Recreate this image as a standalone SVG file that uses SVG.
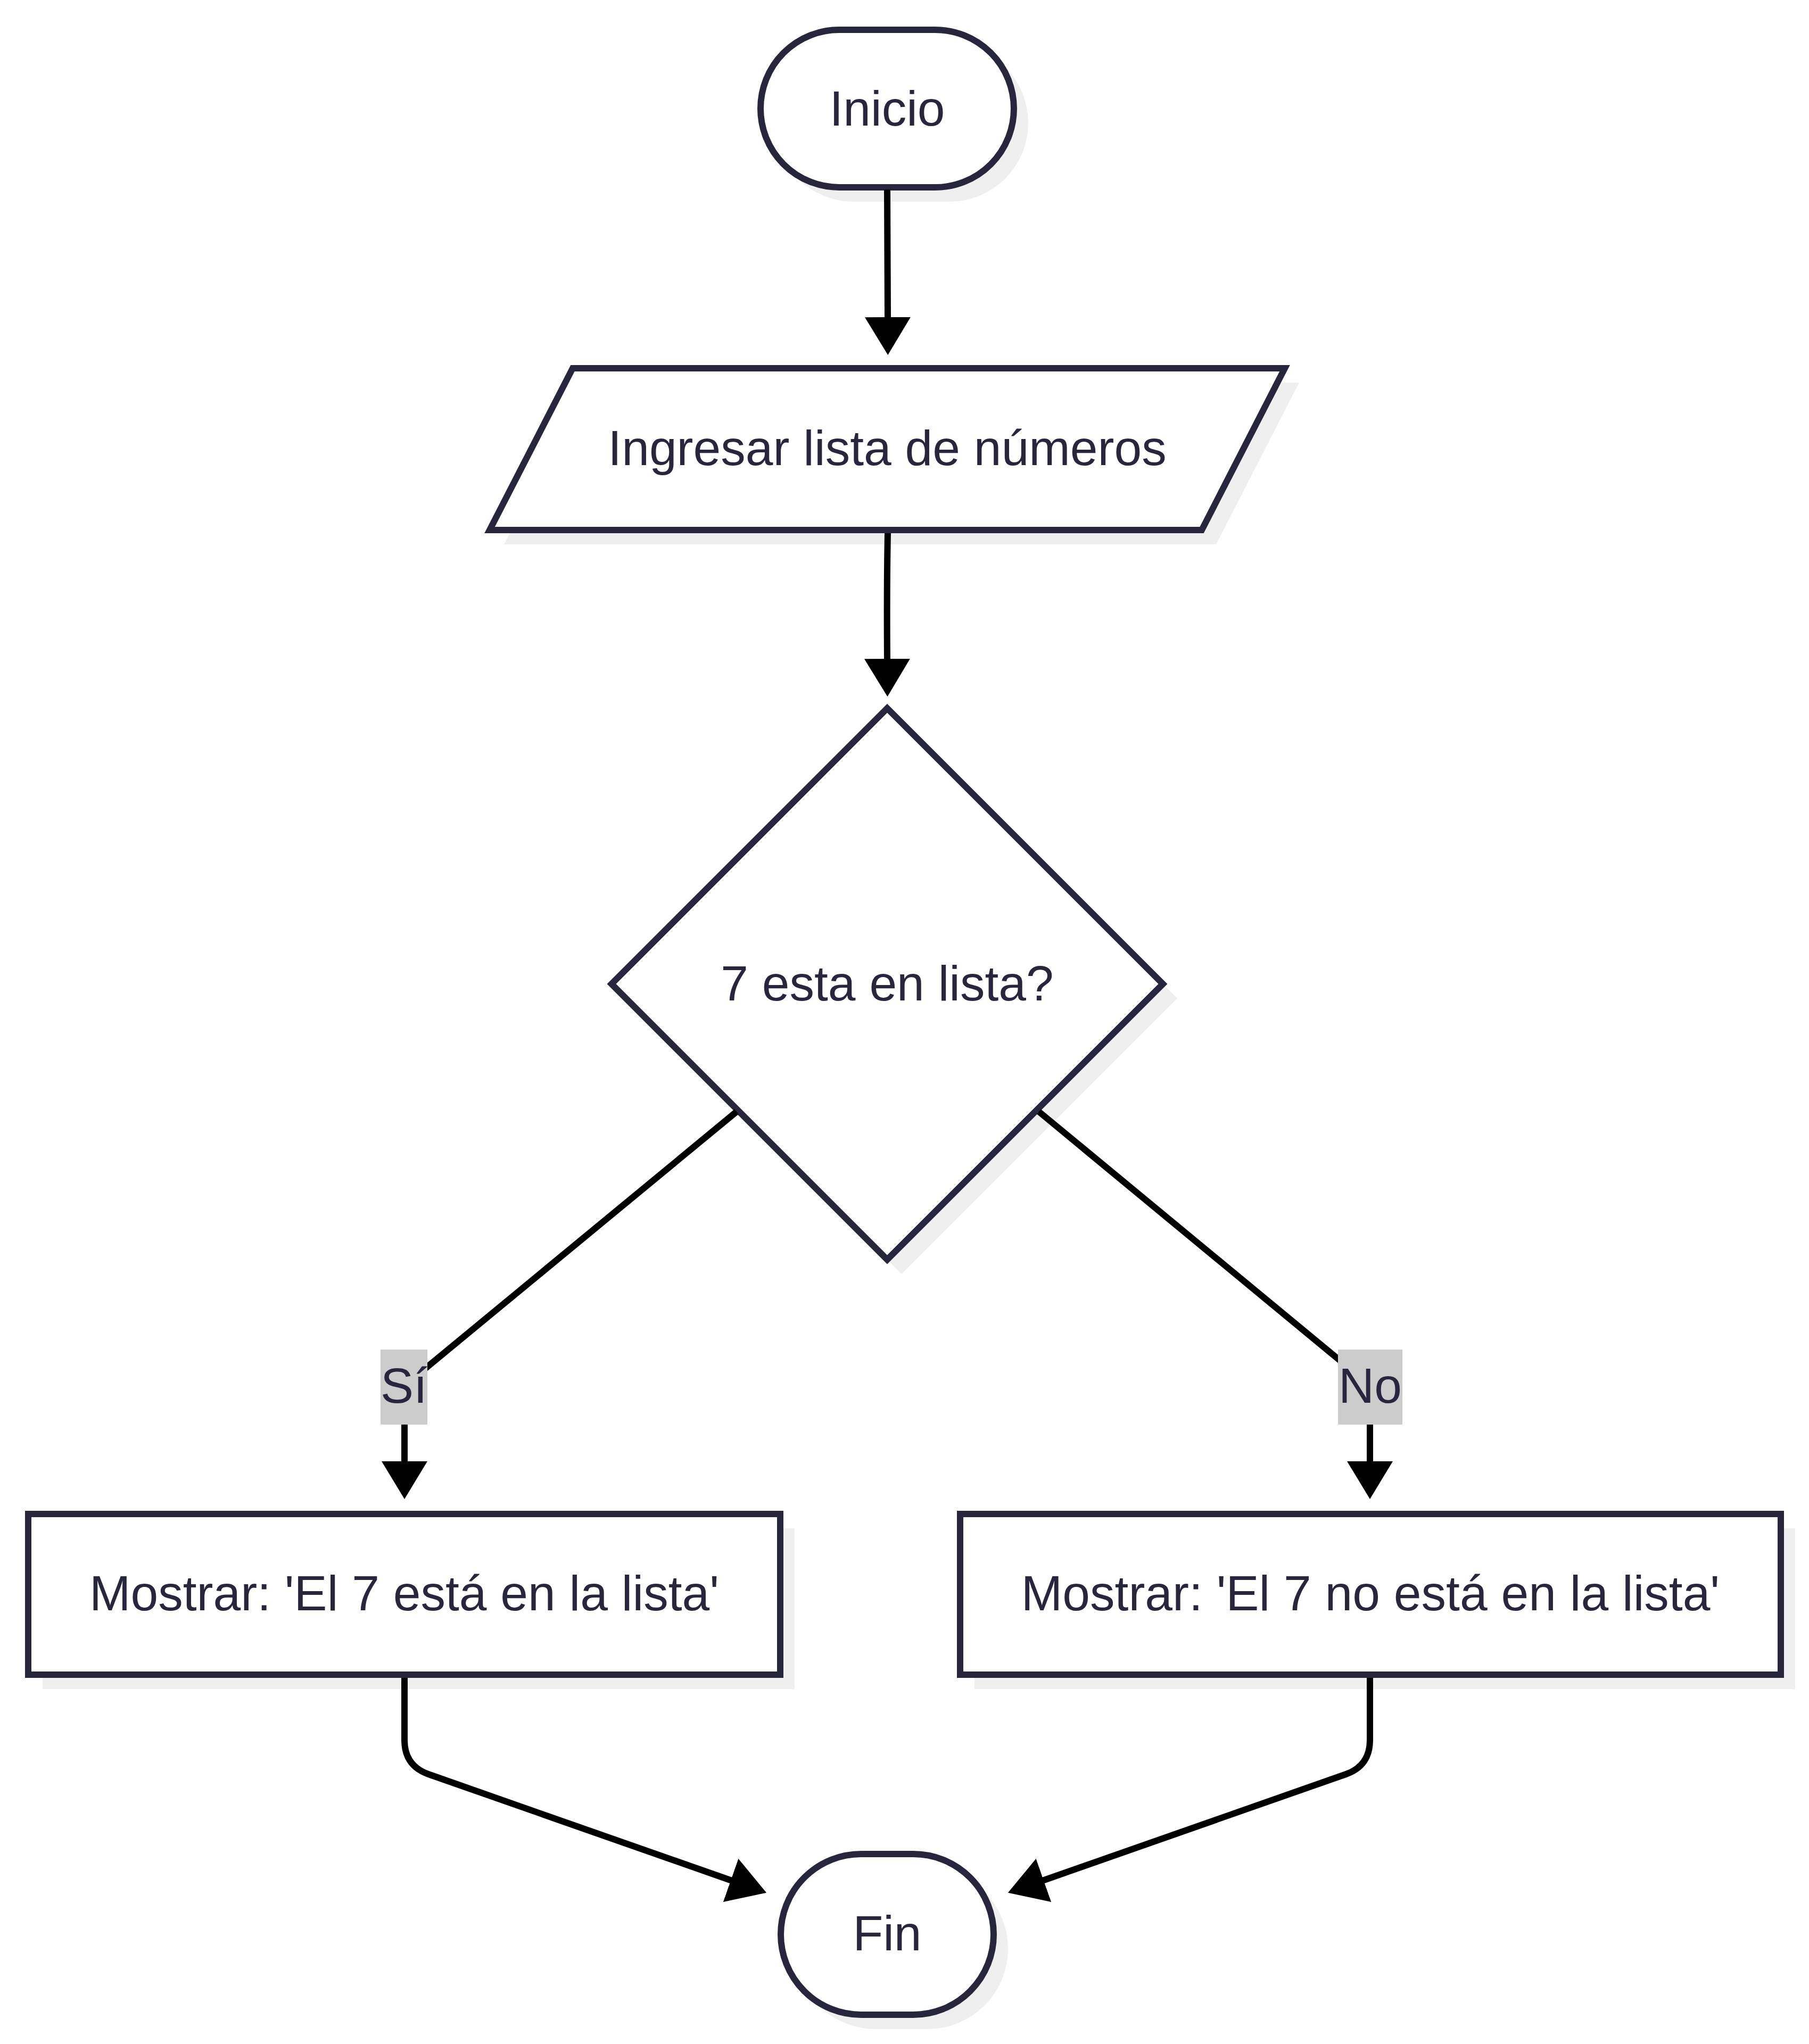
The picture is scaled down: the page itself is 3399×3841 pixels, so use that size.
<svg xmlns="http://www.w3.org/2000/svg" width="3399" height="3841" viewBox="0 0 3399 3841">
<style>
.node{fill:#ffffff;stroke:#27263d;stroke-width:12}
.shadow{fill:#efefef;stroke:none}
.lbl{font-family:"Liberation Sans",Arial,sans-serif;font-size:93px;fill:#27263d;text-anchor:middle}
.edge{fill:none;stroke:#000000;stroke-width:12}
.elbg{fill:#cccccc}
</style>
<defs>
<marker id="arrow" markerUnits="userSpaceOnUse" markerWidth="72" markerHeight="88" viewBox="0 0 72 88" refX="2" refY="44" orient="auto">
<path d="M0,1 L71,44 L0,87 z" fill="#000000"/>
</marker>
</defs>
<rect width="3399" height="3841" fill="#ffffff"/>

<g id="inicio">
<rect class="shadow" x="1456" y="83" width="476" height="296" rx="148"/>
<rect class="node" x="1429" y="56" width="476" height="296" rx="148"/>
<text class="lbl" x="1667" y="236">Inicio</text>
</g>

<g id="ingresar">
<path class="shadow" d="M1103,719 L2441,719 L2285,1023 L947,1023 z"/>
<path class="node" d="M1076,692 L2414,692 L2258,996 L920,996 z"/>
<text class="lbl" x="1667" y="874">Ingresar lista de números</text>
</g>

<g id="decision">
<path class="shadow" d="M1694,1358 L2212,1876 L1694,2394 L1176,1876 z"/>
<path class="node" d="M1667,1331 L2185,1849 L1667,2367 L1149,1849 z"/>
<text class="lbl" x="1667" y="1880">7 esta en lista?</text>
</g>

<g id="mostrar-si">
<rect class="shadow" x="80" y="2872" width="1413" height="302"/>
<rect class="node" x="53" y="2845" width="1413" height="302"/>
<text class="lbl" x="759.5" y="3026">Mostrar: 'El 7 está en la lista'</text>
</g>

<g id="mostrar-no">
<rect class="shadow" x="1831" y="2872" width="1542" height="302"/>
<rect class="node" x="1804" y="2845" width="1542" height="302"/>
<text class="lbl" x="2575" y="3026">Mostrar: 'El 7 no está en la lista'</text>
</g>

<g id="fin">
<rect class="shadow" x="1494" y="3511" width="400" height="302" rx="151"/>
<rect class="node" x="1467" y="3484" width="400" height="302" rx="151"/>
<text class="lbl" x="1667" y="3665">Fin</text>
</g>

<g id="connectors">
<path class="edge" d="M1667,356 L1668,598" marker-end="url(#arrow)"/>
<path class="edge" d="M1668,1002 Q1666,1100 1667,1240" marker-end="url(#arrow)"/>
<path class="edge" d="M1384,2089 L795,2575 Q760,2604 760,2650 L760,2748" marker-end="url(#arrow)"/>
<path class="edge" d="M1952,2089 L2540,2575 Q2574,2604 2574,2650 L2574,2748" marker-end="url(#arrow)"/>
<path class="edge" d="M760,3153 L760,3270 Q760,3318 805,3334 L1375,3534" marker-end="url(#arrow)"/>
<path class="edge" d="M2574,3153 L2574,3270 Q2574,3318 2529,3334 L1959,3534" marker-end="url(#arrow)"/>
</g>

<g id="label-si">
<rect class="elbg" x="715" y="2536" width="88" height="141"/>
<text class="lbl" x="759" y="2636">Sí</text>
</g>
<g id="label-no">
<rect class="elbg" x="2514" y="2536" width="121" height="141"/>
<text class="lbl" x="2574.5" y="2636">No</text>
</g>
</svg>
